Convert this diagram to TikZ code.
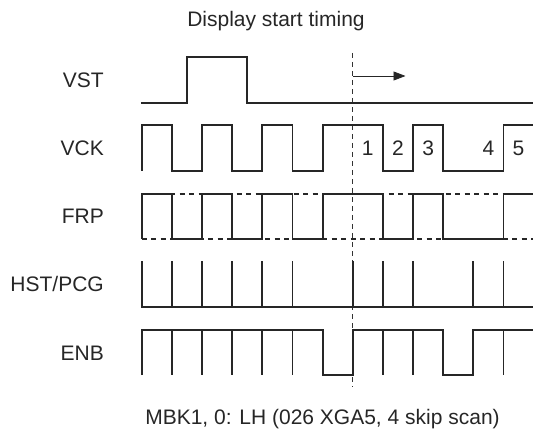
\documentclass[tikz,border=0pt]{standalone}
\usepackage{fontspec}
\setmainfont{Liberation Sans}
\usetikzlibrary{arrows.meta}
\begin{document}
\begin{tikzpicture}[x=1pt,y=-1pt,
  wave/.style={line width=1.8pt,line join=miter,line cap=butt,black!85},
  guide/.style={line width=1.6pt,dash pattern=on 5pt off 4.5pt,black!85},
  marker/.style={line width=0.8pt,dash pattern=on 5pt off 4pt,black!80},
  lbl/.style={font=\fontsize{21}{25}\selectfont,inner sep=0pt,text=black!85},
  sig/.style={lbl,anchor=base east},
  num/.style={lbl,anchor=base}]
\useasboundingbox (0,0) rectangle (534,435);
% titles
\node[lbl,anchor=base] (title) at (276,27) {Display start timing};
\node[lbl,anchor=base] (foot) at (322.5,424.5) {MBK1, 0: LH (026 XGA5, 4 skip scan)};
% signal names
\node[sig] (lvst) at (104,88) {VST};
\node[sig] (lvck) at (104,156) {VCK};
\node[sig] (lfrp) at (104,224) {FRP};
\node[sig] (lhst) at (104,291.5) {HST/PCG};
\node[sig] (lenb) at (104,360) {ENB};
\begin{scope}[x=30.15pt,xshift=141.7pt]
% marker line and arrow
\coordinate (mtop) at (7,53);
\coordinate (mbot) at (7,387);
\draw[marker] (mtop) -- (mbot);
\coordinate (astart) at (7,76);
\coordinate (aend) at (8.75,76);
\draw[line width=0.8pt,black!85,-{Triangle[length=12pt,width=9pt]}] (astart) -- (aend);
% VST
\draw[wave] (-0.03,102.7) -- (1.5,102.7) -- (1.5,57.3) -- (3.5,57.3) -- (3.5,102.7) -- (12.97,102.7);
% VCK
\draw[wave] (0,171) -- (0,125) -- (1,125) -- (1,171) -- (2,171) -- (2,125) -- (3,125) -- (3,171)
  -- (4,171) -- (4,125) -- (5,125) -- (5,171) -- (6,171) -- (6,125) -- (8,125) -- (8,171)
  -- (9,171) -- (9,125) -- (10,125) -- (10,171) -- (12,171) -- (12,125) -- (12.97,125);
\node[num] (n1) at (7.5,156) {1};
\node[num] (n2) at (8.5,156) {2};
\node[num] (n3) at (9.5,156) {3};
\node[num] (n4) at (11.5,156) {4};
\node[num] (n5) at (12.5,156) {5};
% FRP
\draw[guide] (0,194) -- (12.97,194);
\draw[guide] (0,239) -- (12.97,239);
\draw[wave] (0,239) -- (0,194) -- (1,194) -- (1,239) -- (2,239) -- (2,194) -- (3,194) -- (3,239)
  -- (4,239) -- (4,194) -- (5,194) -- (5,239) -- (6,239) -- (6,194) -- (8,194) -- (8,239)
  -- (9,239) -- (9,194) -- (10,194) -- (10,239) -- (12,239) -- (12,194) -- (12.97,194);
% HST/PCG
\draw[wave] (0,261) -- (0,307) -- (12.97,307);
\foreach \i in {1,2,3,4,5,7,8,9,11,12}{\draw[wave] (\i,261) -- (\i,307);}
% ENB
\draw[wave] (0,375) -- (0,330) -- (6,330) -- (6,375) -- (7,375) -- (7,330) -- (10,330) -- (10,375)
  -- (11,375) -- (11,330) -- (12.97,330);
\foreach \i in {1,2,3,4,5,8,9,12}{\draw[wave] (\i,330) -- (\i,375);}
\end{scope}
\end{tikzpicture}
\end{document}
